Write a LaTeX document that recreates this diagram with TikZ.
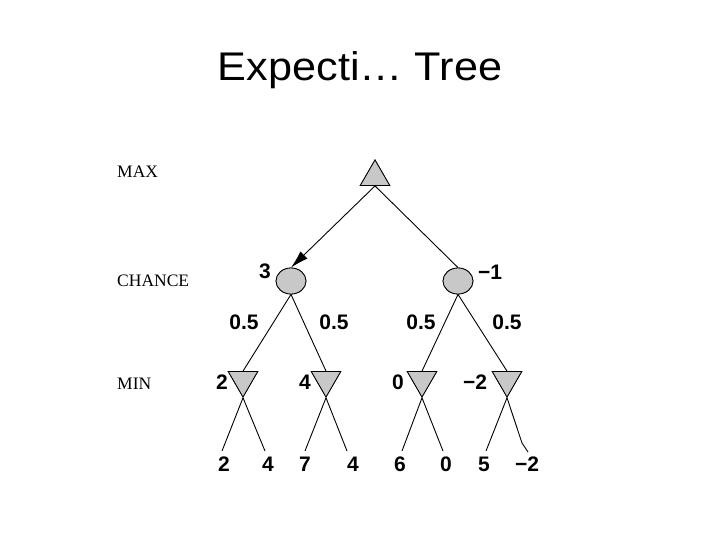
\documentclass[tikz,border=0pt]{standalone}
\usepackage{fontspec}
\setmainfont{Liberation Sans}
\newfontfamily\serifside{Liberation Serif}
\usetikzlibrary{shapes.geometric,arrows.meta}
\definecolor{nodegray}{RGB}{200,200,200}
\tikzset{
  maxnode/.style={regular polygon, regular polygon sides=3, minimum size=34pt, inner sep=0pt, draw=black, fill=nodegray, line width=0.8pt},
  minnode/.style={maxnode, shape border rotate=180},
  chancenode/.style={ellipse, minimum width=30pt, minimum height=26pt, inner sep=0pt, draw=black, fill=nodegray, line width=0.8pt},
  edge/.style={draw=black, line width=0.9pt},
  val/.style={font=\fontsize{21pt}{23pt}\selectfont\bfseries, inner sep=0pt},
  side/.style={font=\serifside\fontsize{17.5pt}{19pt}\selectfont, anchor=west, inner sep=0pt},
}
\begin{document}
\begin{tikzpicture}[x=1pt,y=-1pt]
\useasboundingbox (0,0) rectangle (720,540);
% title
\node[anchor=base, inner sep=0pt, font=\fontsize{40pt}{44pt}\selectfont] (title) at (360,81) {\scalebox{1.08}[1]{Expecti… Tree}};
% side labels
\node[side] (lmax) at (117,172) {MAX};
\node[side] (lchance) at (117,281) {CHANCE};
\node[side] (lmin) at (117,384) {MIN};
% leaf line ends
\coordinate (e1) at (222,451);
\coordinate (e2) at (265,451);
\coordinate (e3) at (305,451);
\coordinate (e4) at (347,451);
\coordinate (e5) at (402,451);
\coordinate (e6) at (443,451);
\coordinate (e7) at (486,451);
\coordinate (e8k) at (522,443);
\coordinate (e8) at (528,452);
% nodes
\node[maxnode] (max) at (375,177) {};
\node[chancenode] (c1) at (291,281) {};
\node[chancenode] (c2) at (458,281) {};
\node[minnode] (m1) at (243,380) {};
\node[minnode] (m2) at (326,380) {};
\node[minnode] (m3) at (422,380) {};
\node[minnode] (m4) at (507,380) {};
% edges
\draw[edge, -{Latex[length=18pt,width=10pt]}] (max.south) -- (c1.north);
\draw[edge] (max.south) -- (c2.north);
\draw[edge] (c1.south) -- (m1.north);
\draw[edge] (c1.south) -- (m2.north);
\draw[edge] (c2.south) -- (m3.north);
\draw[edge] (c2.south) -- (m4.north);
\draw[edge] (m1.south) -- (e1);
\draw[edge] (m1.south) -- (e2);
\draw[edge] (m2.south) -- (e3);
\draw[edge] (m2.south) -- (e4);
\draw[edge] (m3.south) -- (e5);
\draw[edge] (m3.south) -- (e6);
\draw[edge] (m4.south) -- (e7);
\draw[edge] (m4.south) -- (e8k) -- (e8);
% redraw nodes on top of edges
\node[maxnode] at (max) {};
\node[chancenode] at (c1) {};
\node[chancenode] at (c2) {};
\node[minnode] at (m1) {};
\node[minnode] at (m2) {};
\node[minnode] at (m3) {};
\node[minnode] at (m4) {};
% values
\node[val] (v1) at (265,271) {3};
\node[val] (v2) at (490,272) {−1};
\node[val] (p1) at (244,322) {0.5};
\node[val] (p2) at (334,322) {0.5};
\node[val] (p3) at (421,322) {0.5};
\node[val] (p4) at (507,322) {0.5};
\node[val] (w1) at (222,382) {2};
\node[val] (w2) at (305,382) {4};
\node[val] (w3) at (398,382) {0};
\node[val] (w4) at (475,382) {−2};
\node[val] (l1) at (224,464) {2};
\node[val] (l2) at (268,464) {4};
\node[val] (l3) at (305,464) {7};
\node[val] (l4) at (353,464) {4};
\node[val] (l5) at (400,464) {6};
\node[val] (l6) at (446,464) {0};
\node[val] (l7) at (484,464) {5};
\node[val] (l8) at (527,464) {−2};
\end{tikzpicture}
\end{document}
